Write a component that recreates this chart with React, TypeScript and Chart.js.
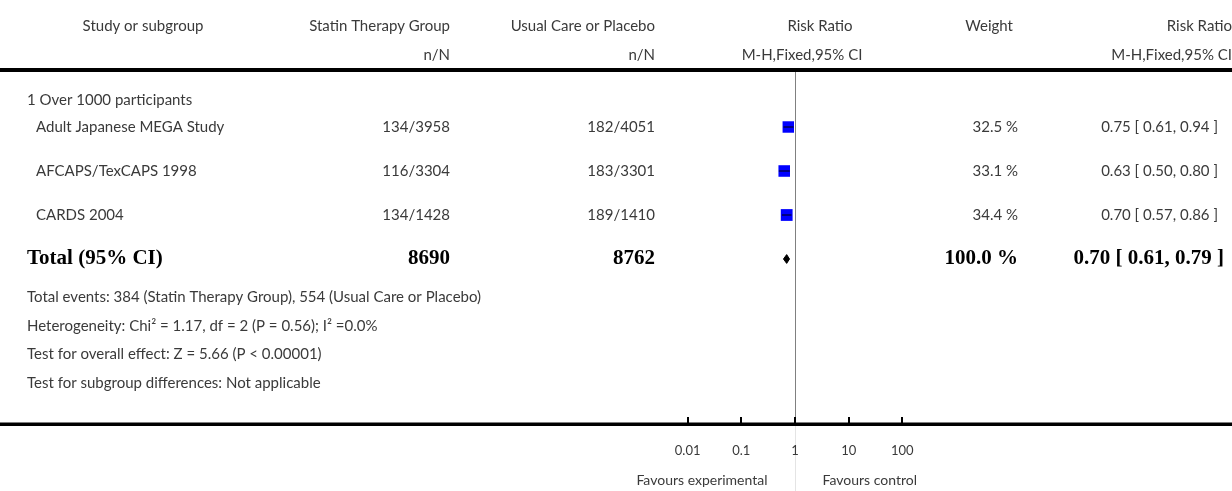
import React, { useEffect, useRef } from "react";
import { Chart, registerables } from "chart.js";

Chart.register(...registerables);

const studies = ["Adult Japanese MEGA Study", "AFCAPS/TexCAPS 1998", "CARDS 2004"];
const statinEvents = ["134/3958", "116/3304", "134/1428"];
const controlEvents = ["182/4051", "183/3301", "189/1410"];
const weights = [32.5, 33.1, 34.4];
const riskRatio = [0.75, 0.63, 0.7];
const ciLow = [0.61, 0.5, 0.57];
const ciHigh = [0.94, 0.8, 0.86];
const totalRR = 0.7;
const totalLow = 0.61;
const totalHigh = 0.79;
const totalStatin = "8690";
const totalControl = "8762";
const totalWeight = "100.0 %";
const subgroupLabel = "1 Over 1000 participants";
const footnotes = [
  "Total events: 384 (Statin Therapy Group), 554 (Usual Care or Placebo)",
  "Heterogeneity: Chi\u00B2 = 1.17, df = 2 (P = 0.56); I\u00B2 =0.0%",
  "Test for overall effect: Z = 5.66 (P < 0.00001)",
  "Test for subgroup differences: Not applicable",
];
const axisTicks = [0.01, 0.1, 1, 10, 100];
const tickLabels = ["0.01", "0.1", "1", "10", "100"];
const favourLeft = "Favours experimental";
const favourRight = "Favours control";

const fmt = (v: number) => v.toFixed(2);
const ciText = (r: number, l: number, h: number) => `${fmt(r)} [ ${fmt(l)}, ${fmt(h)} ]`;

const REG = "15px Lato, 'Open Sans', sans-serif";
const BOLD = "bold 21px 'Liberation Serif', serif";
const TEXT = "#3a3a3a";

const tablePlugin = {
  id: "forestTable",
  beforeDatasetsDraw(chart: any) {
    const { ctx } = chart;
    const x = chart.scales.x;
    const y = chart.scales.y;
    const W = chart.width;
    const H = chart.height;
    const x1 = Math.round(x.getPixelForValue(1)) + 0.5;
    const axisY = 424;
    ctx.save();
    ctx.fillStyle = "#000";
    ctx.fillRect(0, 68, W, 4);
    ctx.strokeStyle = "#808080";
    ctx.lineWidth = 1;
    ctx.beginPath();
    ctx.moveTo(x1, 72);
    ctx.lineTo(x1, axisY);
    ctx.stroke();
    ctx.strokeStyle = "#e4e4e4";
    ctx.beginPath();
    ctx.moveTo(x1, axisY);
    ctx.lineTo(x1, H);
    ctx.stroke();

    ctx.textBaseline = "middle";
    ctx.fillStyle = TEXT;
    ctx.font = REG;
    const t = (s: string, px: number, py: number, align: CanvasTextAlign) => {
      ctx.textAlign = align;
      ctx.fillText(s, px, py);
    };
    t("Study or subgroup", 143, 26, "center");
    t("Statin Therapy Group", 450, 26, "right");
    t("n/N", 450, 55, "right");
    t("Usual Care or Placebo", 655, 26, "right");
    t("n/N", 655, 55, "right");
    t("Risk Ratio", 820, 26, "center");
    t("M-H,Fixed,95% CI", 802, 55, "center");
    t("Weight", 1013, 26, "right");
    t("Risk Ratio", 1232, 26, "right");
    t("M-H,Fixed,95% CI", 1232, 55, "right");

    t(subgroupLabel, 27, 100, "left");
    studies.forEach((s, i) => {
      const py = y.getPixelForValue(i + 1);
      t(s, 36, py, "left");
      t(statinEvents[i], 450, py, "right");
      t(controlEvents[i], 655, py, "right");
      t(`${weights[i].toFixed(1)} %`, 1018, py, "right");
      t(ciText(riskRatio[i], ciLow[i], ciHigh[i]), 1218, py, "right");
    });
    footnotes.forEach((f, i) => t(f, 27, 297 + i * 28.7, "left"));

    const ty = y.getPixelForValue(studies.length + 1);
    ctx.fillStyle = "#000";
    ctx.font = BOLD;
    t("Total (95% CI)", 27, ty, "left");
    t(totalStatin, 450, ty, "right");
    t(totalControl, 655, ty, "right");
    t(totalWeight, 1018, ty, "right");
    t(ciText(totalRR, totalLow, totalHigh), 1224, ty, "right");

    ctx.fillStyle = "#000";
    ctx.fillRect(0, axisY - 1.5, W, 3.5);
    axisTicks.forEach((v) => {
      const px = Math.round(x.getPixelForValue(v));
      ctx.fillRect(px - 1, axisY - 7, 2, 7);
    });
    ctx.fillStyle = TEXT;
    ctx.font = "13px Lato, 'Open Sans', sans-serif";
    axisTicks.forEach((v, i) => t(tickLabels[i], x.getPixelForValue(v), 451, "center"));
    ctx.font = "14px Lato, 'Open Sans', sans-serif";
    t(favourLeft, x1 - 28, 480, "right");
    t(favourRight, x1 + 27, 480, "left");
    ctx.restore();
  },
};

export default function App() {
  const ref = useRef<HTMLCanvasElement | null>(null);
  useEffect(() => {
    if (!ref.current) return;
    const row = studies.length + 1;
    const dh = 0.1;
    const chart = new Chart(ref.current, {
      type: "scatter",
      data: {
        datasets: [
          ...studies.map((_, i) => ({
            type: "line" as const,
            data: [
              { x: ciLow[i], y: i + 1 },
              { x: ciHigh[i], y: i + 1 },
            ],
            borderColor: "#000",
            borderWidth: 1,
            pointRadius: 0,
            fill: false,
            order: 1,
          })),
          {
            type: "scatter" as const,
            data: riskRatio.map((r, i) => ({ x: r, y: i + 1 })),
            pointStyle: "rect",
            pointRadius: weights.map((w) => 8.2 * Math.sqrt(w / 33.3)),
            backgroundColor: "#0000ff",
            borderWidth: 0,
            order: 2,
          },
          {
            type: "line" as const,
            data: [
              { x: totalLow, y: row },
              { x: totalRR, y: row - dh },
              { x: totalHigh, y: row },
              { x: totalRR, y: row + dh },
              { x: totalLow, y: row },
            ],
            borderColor: "#000",
            borderWidth: 1,
            backgroundColor: "#000",
            pointRadius: 0,
            fill: "shape",
            order: 0,
          },
        ],
      } as any,
      options: {
        animation: false,
        responsive: false,
        devicePixelRatio: 1,
        layout: { padding: { left: 634, right: 276, top: 83, bottom: 56 } },
        plugins: { legend: { display: false }, tooltip: { enabled: false } },
        scales: {
          x: { type: "logarithmic", min: 0.001, max: 1000, display: false },
          y: { type: "linear", min: 0, max: 8, reverse: true, display: false },
        },
        events: [],
      } as any,
      plugins: [tablePlugin],
    });
    return () => chart.destroy();
  }, []);
  return (
    <div style={{ position: "absolute", left: 0, top: 0, width: 1232, height: 491, background: "#fff" }}>
      <canvas ref={ref} width={1232} height={491} style={{ width: 1232, height: 491, display: "block" }} />
    </div>
  );
}
